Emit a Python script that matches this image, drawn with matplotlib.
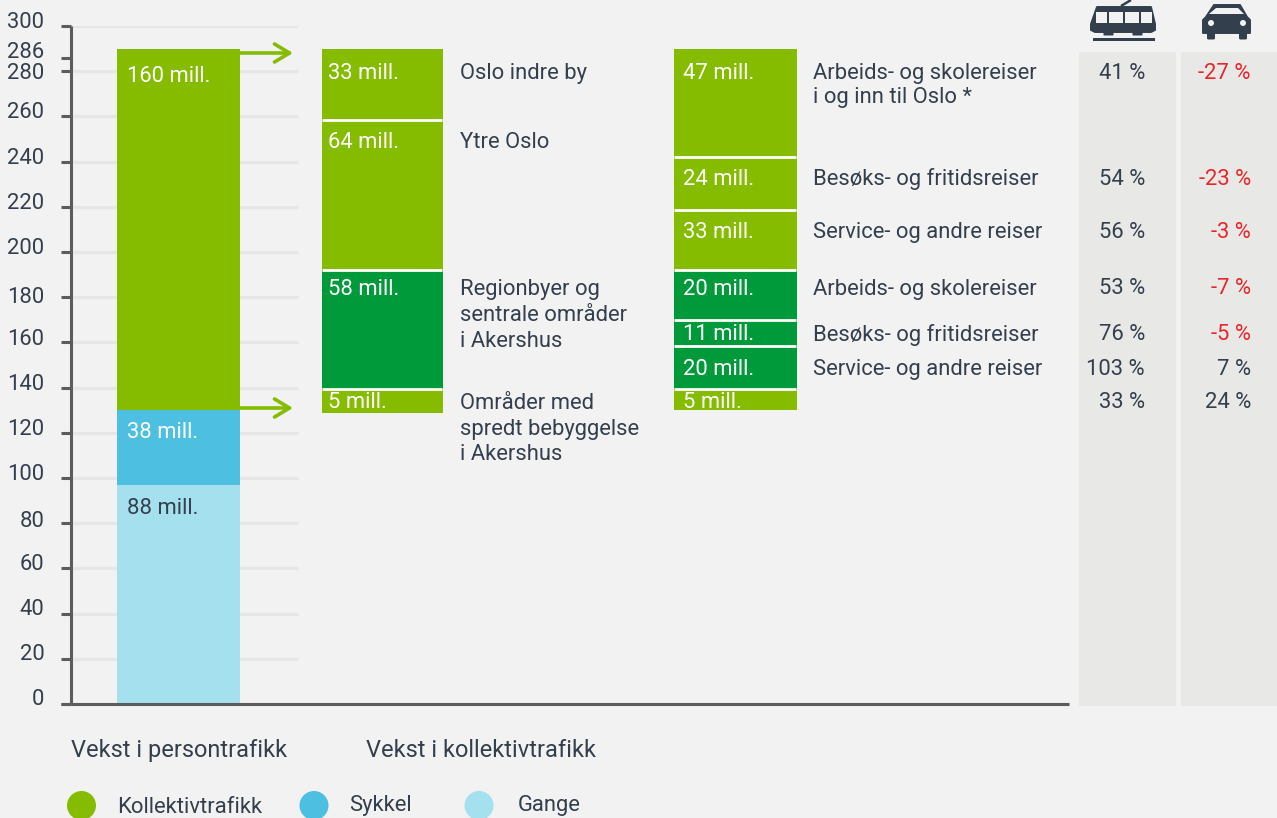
# Growth in passenger traffic, stacked columns with table at the right

import matplotlib
matplotlib.use("Agg")
import matplotlib.pyplot as plt
import matplotlib.patches as mpatches
import matplotlib.transforms as mtransforms

plt.rcParams["font.family"] = ["Roboto", "DejaVu Sans"]

BG = "#f2f2f2"
GREEN = "#85bc00"
DARK_GREEN = "#009a3a"
BLUE = "#4dc0e2"
LIGHT_BLUE = "#a5e0ee"
TEXT = "#333f4d"
RED = "#e8262a"
PANEL = "#e8e8e6"
AXIS = "#5c5c5c"
GRID = "#e6e6e6"

y_ticks = [0, 20, 40, 60, 80, 100, 120, 140, 160, 180, 200, 220, 240, 260, 280, 286, 300]
tick_nudge = [7, 7, 7, 6, 4, 6, 6, 6, 5, 2, 6, 6, 6, 6, 0, 8, 6]

# drawn heights, bottom to top (they differ a bit from the printed numbers)
person_heights = [97, 33, 160]
person_colors = [LIGHT_BLUE, BLUE, GREEN]
person_labels = ["88 mill.", "38 mill.", "160 mill."]
person_label_y = [507, 431, 75]

area_heights = [10.6, 52.7, 66.4, 31.4]
area_base = 128.8
area_colors = [GREEN, DARK_GREEN, GREEN, GREEN]
area_labels = ["5 mill.", "58 mill.", "64 mill.", "33 mill."]
area_label_y = [401, 288, 141, 72]

purpose_heights = [9.3, 19, 11.5, 22.3, 26.3, 23.5, 47.8]
purpose_base = 130.1
purpose_colors = [GREEN, DARK_GREEN, DARK_GREEN, DARK_GREEN, GREEN, GREEN, GREEN]
purpose_labels = ["5 mill.", "20 mill.", "11 mill.", "20 mill.", "33 mill.", "24 mill.", "47 mill."]
purpose_label_y = [401, 368, 333, 288, 231, 178, 72]

area_names = ["Oslo indre by", "Ytre Oslo", "Regionbyer og", "sentrale områder", "i Akershus",
              "Områder med", "spredt bebyggelse", "i Akershus"]
area_names_y = [72, 141, 288, 314, 340, 402, 428, 453]

purpose_names = ["Arbeids- og skolereiser", "i og inn til Oslo *", "Besøks- og fritidsreiser",
                 "Service- og andre reiser", "Arbeids- og skolereiser", "Besøks- og fritidsreiser",
                 "Service- og andre reiser"]
purpose_names_y = [72, 96, 178, 231, 288, 333, 368]

table_rows_y = [72, 178, 231, 287, 333, 368, 401]
transit_change = [41, 54, 56, 53, 76, 103, 33]
car_change = [-27, -23, -3, -7, -5, 7, 24]

legend_names = ["Kollektivtrafikk", "Sykkel", "Gange"]
legend_colors = [GREEN, BLUE, LIGHT_BLUE]

W, H = 1277, 818
FS = 15.8

fig = plt.figure(figsize=(W / 100, H / 100), dpi=100, facecolor=BG)
ax = fig.add_axes([71 / W, 1 - 704 / H, (1069 - 71) / W, (704 - 26) / H])
ax.patch.set_alpha(0)
ax.set_xlim(71, 1069)
ax.set_ylim(0, 300)
ax.spines["top"].set_visible(False)
ax.spines["right"].set_visible(False)
for side in ["left", "bottom"]:
  ax.spines[side].set_color(AXIS)
  ax.spines[side].set_linewidth(2.2)
  ax.spines[side].set_capstyle("butt")
ax.set_xticks([])
ax.set_yticks(y_ticks)
ax.set_yticklabels([str(t) for t in y_ticks], fontsize=FS, color=TEXT)
ax.tick_params(axis="y", length=7.2, width=2.2, color=AXIS, pad=12)
for label, dy in zip(ax.get_yticklabels(), tick_nudge):
  label.set_transform(label.get_transform() + mtransforms.ScaledTranslation(0, dy / 100, fig.dpi_scale_trans))

ax.plot([61, 71], [0, 0], color=AXIS, lw=2.2, clip_on=False, solid_capstyle="butt")

ax.hlines([t for t in y_ticks if t not in (0, 286)], 71, 298, color=GRID, lw=2.2, zorder=1)


def stack(left, right, heights, colors, base=0, sep=False):
  bottom = base
  for h, c in zip(heights, colors):
    ax.bar((left + right) / 2, h, width=right - left, bottom=bottom, color=c, zorder=2)
    bottom += h
    if sep and bottom < base + sum(heights) - 0.01:
      ax.hlines(bottom, left, right - 1, color="white", lw=2, zorder=3)


stack(117, 240, person_heights, person_colors)
stack(322, 443, area_heights, area_colors, area_base, True)
stack(674, 797, purpose_heights, purpose_colors, purpose_base, True)

# overlay in pixel coordinates for text, icons and panels
ov = fig.add_axes([0, 0, 1, 1])
ov.set_xlim(0, W)
ov.set_ylim(H, 0)
ov.axis("off")
ov.patch.set_alpha(0)


def put(x, y, s, color=TEXT, ha="left", size=FS):
  ov.text(x, y - 1, s, color=color, ha=ha, va="center_baseline", fontsize=size)


for s, y, c in zip(person_labels, person_label_y, ["#333f4d", "white", "white"]):
  put(127, y, s, c)
for s, y in zip(area_labels, area_label_y):
  put(328, y, s, "white")
for s, y in zip(purpose_labels, purpose_label_y):
  put(683, y, s, "white")
for s, y in zip(area_names, area_names_y):
  put(460, y, s)
for s, y in zip(purpose_names, purpose_names_y):
  put(813, y, s)

ov.add_patch(mpatches.Rectangle((1079, 52), 97, 654, color=PANEL, lw=0))
ov.add_patch(mpatches.Rectangle((1181, 52), 96, 654, color=PANEL, lw=0))
for y, t, c in zip(table_rows_y, transit_change, car_change):
  put(1145, y, f"{t} %", ha="right")
  put(1251, y, f"{c} %", RED if c < 0 else TEXT, ha="right")

for y in (53, 408):
  ov.annotate("", xy=(293, y), xytext=(240, y),
              arrowprops=dict(arrowstyle="->,head_length=10.8,head_width=6.5", mutation_scale=1,
                              color=GREEN, lw=2.6, shrinkA=0, shrinkB=0))

put(71, 749, "Vekst i persontrafikk", size=17)
put(366, 749, "Vekst i kollektivtrafikk", size=17)

for cx, c in zip([81.5, 314, 479], legend_colors):
  ov.add_patch(mpatches.Circle((cx, 805.5), 14.5, color=c, lw=0))
for x, y, s in zip([117, 349, 518], [806, 804, 804], legend_names):
  put(x, y, s)

# tram icon
DARK = "#333f4d"
ov.add_patch(mpatches.Polygon([(1097, 7), (1151, 7), (1155, 24), (1155, 30), (1151, 32), (1095, 32),
                               (1091, 30), (1091, 24)], facecolor=DARK, edgecolor=DARK, lw=1.4, joinstyle="round"))
for wx, ww in zip((1096, 1109, 1125, 1141), (11, 14, 14, 11)):
  ov.add_patch(mpatches.Rectangle((wx, 12), ww, 11, color=BG, lw=0))
for wx in (1104, 1133):
  ov.add_patch(mpatches.FancyBboxPatch((wx, 32), 9, 3, boxstyle="round,pad=0.5", color=DARK, lw=0))
ov.add_patch(mpatches.Rectangle((1093, 38), 62, 3, color=DARK, lw=0))
ov.plot([1121, 1131], [6, 0], color=DARK, lw=1.8, solid_capstyle="butt")

# car icon
ov.add_patch(mpatches.Polygon([(1214, 5), (1240, 5), (1247, 17), (1250, 20), (1250, 33), (1203, 33),
                               (1203, 20), (1206, 17)], facecolor=DARK, edgecolor=DARK, lw=1.4, joinstyle="round"))
ov.add_patch(mpatches.Polygon([(1216, 8), (1238, 8), (1244, 14), (1209, 14)], color=BG, lw=0))
for cx in (1211, 1243):
  ov.add_patch(mpatches.Circle((cx, 23), 3, color=BG, lw=0))
  ov.add_patch(mpatches.FancyBboxPatch((cx - 2.5, 33), 5, 5, boxstyle="round,pad=1.5", color=DARK, lw=0))

fig.savefig("out.png", dpi=100, facecolor=BG)
